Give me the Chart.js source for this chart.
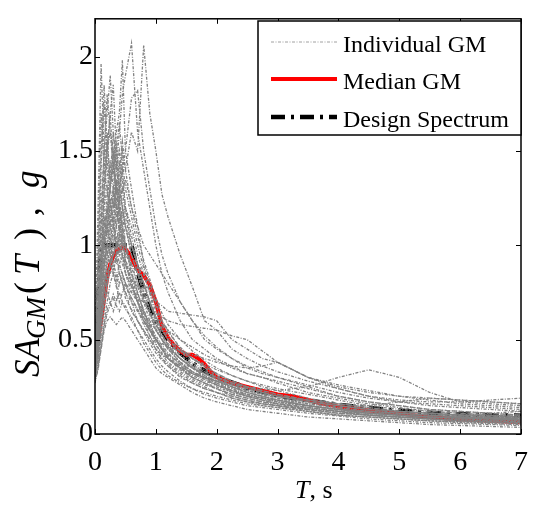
<!DOCTYPE html>
<html>
<head>
<meta charset="utf-8">
<script src="https://cdn.jsdelivr.net/npm/chart.js@4"></script>
<style>
  html, body { margin: 0; padding: 0; background: #fff; }
  canvas { display: block; }
</style>
</head>
<body>
<canvas id="spectra" width="540" height="513"></canvas>
<script>
// periods shared by all individual ground motions (s)
const periods = [0, 0.05, 0.1, 0.15, 0.2, 0.25, 0.3, 0.35, 0.4, 0.45, 0.5, 0.6, 0.7, 0.8, 0.9, 1.0,
  1.1, 1.2, 1.4, 1.6, 1.8, 2.0, 2.25, 2.5, 2.75, 3.0, 3.5, 4.0, 4.5, 5.0, 5.5, 6.0, 6.5, 7.0]

// spectral accelerations of each record (g), one row per ground motion
const gmSpectra = [
  [0.45, 0.6, 0.85, 0.9, 1.0, 0.95, 1.1, 1.2, 1.3, 1.5, 1.4, 1.6, 1.5, 2.06, 1.7, 1.5, 1.27, 1.15, 0.95, 0.78, 0.6, 0.55, 0.45, 0.4, 0.36, 0.33, 0.28, 0.24, 0.2, 0.17, 0.15, 0.14, 0.13, 0.12],
  [0.4, 0.55, 0.8, 1.0, 1.2, 1.3, 1.5, 1.4, 1.6, 1.8, 1.9, 2.07, 1.6, 1.4, 1.2, 1.0, 0.85, 0.75, 0.6, 0.5, 0.45, 0.4, 0.36, 0.32, 0.3, 0.27, 0.22, 0.19, 0.16, 0.14, 0.12, 0.11, 0.1, 0.09],
  [0.35, 0.5, 0.7, 0.9, 1.0, 1.1, 1.2, 1.3, 1.25, 1.4, 1.5, 1.78, 1.82, 1.5, 1.3, 1.1, 0.95, 0.85, 0.7, 0.6, 0.5, 0.45, 0.4, 0.36, 0.33, 0.3, 0.25, 0.2, 0.17, 0.15, 0.13, 0.12, 0.11, 0.1],
  [0.5, 1.2, 1.96, 1.5, 1.4, 1.2, 1.3, 1.1, 1.0, 0.95, 0.9, 0.8, 0.7, 0.6, 0.55, 0.5, 0.45, 0.4, 0.35, 0.3, 0.27, 0.24, 0.2, 0.18, 0.16, 0.15, 0.12, 0.1, 0.09, 0.08, 0.07, 0.06, 0.055, 0.05],
  [0.42, 0.7, 1.1, 1.5, 1.7, 1.9, 1.6, 1.4, 1.3, 1.2, 1.1, 0.95, 0.85, 0.75, 0.65, 0.55, 0.5, 0.45, 0.38, 0.33, 0.3, 0.27, 0.23, 0.2, 0.18, 0.16, 0.13, 0.11, 0.1, 0.09, 0.08, 0.07, 0.065, 0.06],
  [0.38, 0.5, 0.7, 0.9, 1.1, 1.3, 1.4, 1.6, 1.7, 1.98, 1.5, 1.3, 1.1, 0.9, 0.8, 0.7, 0.6, 0.55, 0.45, 0.4, 0.36, 0.32, 0.28, 0.25, 0.22, 0.2, 0.17, 0.15, 0.13, 0.11, 0.1, 0.09, 0.085, 0.08],
  [0.4, 0.6, 0.9, 1.2, 1.5, 1.7, 1.85, 1.5, 1.3, 1.4, 1.2, 1.0, 0.9, 0.85, 0.75, 0.6, 0.5, 0.45, 0.4, 0.35, 0.3, 0.28, 0.25, 0.23, 0.21, 0.2, 0.18, 0.15, 0.13, 0.12, 0.11, 0.1, 0.09, 0.085],
  [0.45, 0.8, 1.2, 1.5, 1.8, 1.6, 1.5, 1.3, 1.2, 1.1, 1.0, 0.9, 0.8, 0.7, 0.6, 0.5, 0.45, 0.4, 0.35, 0.32, 0.3, 0.26, 0.22, 0.2, 0.18, 0.16, 0.14, 0.12, 0.1, 0.09, 0.08, 0.075, 0.07, 0.065],
  [0.3, 0.4, 0.6, 0.7, 0.8, 0.85, 0.9, 0.85, 0.8, 0.8, 0.75, 0.7, 0.65, 0.6, 0.55, 0.5, 0.45, 0.42, 0.38, 0.35, 0.32, 0.3, 0.27, 0.25, 0.24, 0.23, 0.25, 0.3, 0.34, 0.3, 0.22, 0.17, 0.16, 0.15],
  [0.35, 0.45, 0.6, 0.75, 0.85, 0.9, 0.95, 1.0, 1.1, 1.0, 0.95, 0.9, 0.85, 0.8, 0.75, 0.7, 0.68, 0.65, 0.64, 0.63, 0.62, 0.6, 0.5, 0.45, 0.4, 0.38, 0.3, 0.25, 0.22, 0.2, 0.19, 0.18, 0.17, 0.16],
  [0.33, 0.45, 0.6, 0.7, 0.8, 0.9, 1.0, 1.1, 1.2, 1.3, 1.35, 1.2, 1.1, 1.0, 0.95, 0.9, 0.85, 0.8, 0.7, 0.6, 0.52, 0.46, 0.4, 0.35, 0.32, 0.3, 0.26, 0.22, 0.19, 0.17, 0.16, 0.15, 0.14, 0.13],
  [0.27, 0.35, 0.45, 0.55, 0.6, 0.62, 0.6, 0.58, 0.6, 0.62, 0.6, 0.55, 0.5, 0.45, 0.4, 0.35, 0.32, 0.3, 0.26, 0.22, 0.19, 0.17, 0.15, 0.13, 0.12, 0.11, 0.09, 0.08, 0.07, 0.06, 0.05, 0.045, 0.04, 0.035],
  [0.3, 0.4, 0.55, 0.7, 0.75, 0.7, 0.65, 0.7, 0.75, 0.7, 0.68, 0.6, 0.55, 0.5, 0.45, 0.4, 0.36, 0.33, 0.28, 0.24, 0.21, 0.19, 0.17, 0.15, 0.14, 0.13, 0.11, 0.095, 0.08, 0.07, 0.06, 0.055, 0.05, 0.045],
  [0.36, 0.55, 0.8, 1.0, 1.1, 1.2, 1.15, 1.0, 0.95, 1.05, 1.0, 0.85, 0.75, 0.65, 0.55, 0.48, 0.42, 0.38, 0.33, 0.29, 0.26, 0.24, 0.21, 0.19, 0.17, 0.16, 0.14, 0.12, 0.11, 0.1, 0.09, 0.085, 0.08, 0.075],
  [0.4, 0.6, 0.9, 1.2, 1.3, 1.1, 1.0, 1.1, 1.2, 1.1, 0.9, 0.8, 0.7, 0.62, 0.55, 0.5, 0.45, 0.4, 0.35, 0.3, 0.27, 0.25, 0.22, 0.2, 0.19, 0.18, 0.16, 0.14, 0.12, 0.11, 0.1, 0.095, 0.09, 0.085],
  [0.45, 0.65, 0.9, 1.05, 0.95, 1.0, 1.2, 1.3, 1.15, 1.0, 0.95, 1.0, 0.9, 0.8, 0.7, 0.6, 0.55, 0.5, 0.44, 0.4, 0.35, 0.31, 0.27, 0.24, 0.22, 0.2, 0.17, 0.15, 0.13, 0.12, 0.11, 0.1, 0.095, 0.09],
  [0.32, 0.4, 0.55, 0.65, 0.8, 0.9, 0.95, 0.9, 1.0, 0.95, 0.85, 0.75, 0.7, 0.6, 0.52, 0.45, 0.4, 0.36, 0.3, 0.27, 0.24, 0.22, 0.2, 0.18, 0.16, 0.15, 0.13, 0.12, 0.11, 0.1, 0.09, 0.08, 0.075, 0.07],
  [0.38, 0.5, 0.65, 0.8, 0.9, 1.0, 1.05, 1.15, 1.25, 1.1, 1.0, 0.9, 0.85, 0.78, 0.7, 0.62, 0.58, 0.55, 0.5, 0.46, 0.42, 0.39, 0.35, 0.32, 0.3, 0.28, 0.24, 0.2, 0.17, 0.15, 0.13, 0.12, 0.11, 0.1],
  [0.34, 0.45, 0.6, 0.75, 0.85, 0.9, 0.95, 1.0, 0.9, 0.85, 0.8, 0.75, 0.72, 0.7, 0.68, 0.64, 0.62, 0.6, 0.58, 0.57, 0.56, 0.55, 0.52, 0.5, 0.44, 0.38, 0.3, 0.26, 0.23, 0.2, 0.18, 0.16, 0.15, 0.14],
  [0.42, 0.55, 0.75, 0.95, 1.1, 1.0, 0.9, 0.95, 0.85, 0.8, 0.75, 0.65, 0.6, 0.55, 0.5, 0.45, 0.4, 0.37, 0.32, 0.28, 0.25, 0.22, 0.19, 0.17, 0.15, 0.14, 0.12, 0.1, 0.09, 0.08, 0.07, 0.065, 0.06, 0.055],
  [0.3, 0.38, 0.5, 0.6, 0.7, 0.8, 0.85, 0.8, 0.7, 0.75, 0.8, 0.7, 0.6, 0.55, 0.5, 0.45, 0.42, 0.4, 0.36, 0.32, 0.3, 0.28, 0.25, 0.22, 0.2, 0.18, 0.15, 0.13, 0.12, 0.11, 0.1, 0.1, 0.11, 0.12],
  [0.36, 0.48, 0.62, 0.8, 0.9, 0.95, 0.88, 0.82, 0.9, 0.95, 0.85, 0.78, 0.7, 0.62, 0.56, 0.5, 0.46, 0.42, 0.37, 0.33, 0.3, 0.28, 0.26, 0.24, 0.22, 0.2, 0.18, 0.16, 0.15, 0.17, 0.19, 0.18, 0.17, 0.16],
  [0.48, 0.75, 1.1, 1.4, 1.3, 1.2, 1.1, 1.25, 1.05, 0.95, 0.9, 0.8, 0.72, 0.64, 0.57, 0.5, 0.45, 0.41, 0.36, 0.32, 0.29, 0.26, 0.23, 0.21, 0.19, 0.17, 0.15, 0.13, 0.12, 0.11, 0.1, 0.09, 0.085, 0.08],
  [0.33, 0.42, 0.6, 0.78, 0.95, 1.05, 1.1, 1.0, 1.05, 1.15, 1.2, 1.1, 0.95, 0.85, 0.75, 0.65, 0.58, 0.52, 0.44, 0.38, 0.34, 0.3, 0.26, 0.23, 0.21, 0.19, 0.16, 0.14, 0.12, 0.1, 0.09, 0.085, 0.08, 0.075],
  [0.29, 0.36, 0.48, 0.58, 0.66, 0.7, 0.72, 0.68, 0.65, 0.7, 0.66, 0.62, 0.55, 0.48, 0.43, 0.38, 0.34, 0.31, 0.27, 0.24, 0.22, 0.2, 0.18, 0.16, 0.15, 0.14, 0.12, 0.1, 0.09, 0.08, 0.07, 0.065, 0.06, 0.055],
  [0.44, 0.62, 0.85, 1.1, 1.25, 1.45, 1.3, 1.2, 1.1, 1.0, 0.92, 0.85, 0.78, 0.7, 0.64, 0.58, 0.52, 0.48, 0.42, 0.37, 0.33, 0.3, 0.27, 0.24, 0.22, 0.2, 0.17, 0.15, 0.13, 0.12, 0.11, 0.1, 0.09, 0.085],
  [0.37, 0.52, 0.72, 0.88, 1.0, 1.15, 1.25, 1.4, 1.5, 1.35, 1.2, 1.05, 0.9, 0.8, 0.7, 0.62, 0.55, 0.5, 0.42, 0.36, 0.32, 0.29, 0.26, 0.23, 0.21, 0.19, 0.16, 0.14, 0.12, 0.11, 0.1, 0.09, 0.085, 0.08],
  [0.4, 0.55, 0.75, 0.9, 1.0, 0.95, 1.0, 0.92, 0.88, 0.85, 0.8, 0.72, 0.66, 0.6, 0.55, 0.5, 0.48, 0.46, 0.44, 0.42, 0.4, 0.38, 0.36, 0.35, 0.36, 0.38, 0.3, 0.24, 0.2, 0.18, 0.17, 0.17, 0.18, 0.19],
  [0.35, 0.5, 0.7, 0.85, 0.95, 0.9, 0.85, 0.95, 1.05, 0.95, 0.9, 0.82, 0.78, 0.74, 0.7, 0.62, 0.56, 0.5, 0.44, 0.4, 0.37, 0.34, 0.31, 0.28, 0.26, 0.24, 0.21, 0.18, 0.15, 0.13, 0.12, 0.11, 0.1, 0.1],
  [0.46, 0.7, 1.0, 1.3, 1.5, 1.6, 1.4, 1.55, 1.3, 1.2, 1.1, 1.0, 0.9, 0.8, 0.7, 0.6, 0.53, 0.47, 0.4, 0.35, 0.31, 0.28, 0.24, 0.21, 0.19, 0.17, 0.14, 0.12, 0.1, 0.09, 0.08, 0.075, 0.07, 0.065],
  [0.5, 1.0, 1.7, 1.4, 1.6, 1.3, 1.5, 1.2, 1.1, 1.2, 1.0, 0.85, 0.75, 0.65, 0.58, 0.5, 0.45, 0.4, 0.34, 0.3, 0.27, 0.24, 0.21, 0.19, 0.17, 0.15, 0.13, 0.11, 0.1, 0.09, 0.08, 0.07, 0.065, 0.06],
  [0.41, 0.8, 1.4, 1.85, 1.5, 1.7, 1.4, 1.3, 1.45, 1.2, 1.1, 0.95, 0.85, 0.72, 0.63, 0.55, 0.5, 0.45, 0.38, 0.33, 0.3, 0.27, 0.24, 0.21, 0.19, 0.17, 0.15, 0.13, 0.11, 0.1, 0.09, 0.085, 0.08, 0.075],
  [0.38, 0.6, 0.95, 1.15, 1.05, 1.25, 1.1, 1.35, 1.2, 1.05, 0.98, 0.88, 0.8, 0.72, 0.64, 0.56, 0.5, 0.46, 0.4, 0.35, 0.32, 0.29, 0.25, 0.22, 0.2, 0.18, 0.15, 0.13, 0.11, 0.1, 0.09, 0.085, 0.08, 0.075],
  [0.34, 0.55, 0.85, 1.3, 1.55, 1.35, 1.6, 1.45, 1.25, 1.3, 1.15, 1.0, 0.88, 0.76, 0.66, 0.58, 0.52, 0.47, 0.4, 0.35, 0.31, 0.28, 0.25, 0.22, 0.2, 0.18, 0.15, 0.13, 0.11, 0.1, 0.09, 0.08, 0.075, 0.07],
  [0.31, 0.45, 0.68, 0.85, 0.78, 0.92, 0.85, 0.78, 0.86, 0.8, 0.72, 0.66, 0.6, 0.54, 0.48, 0.43, 0.39, 0.36, 0.31, 0.27, 0.24, 0.22, 0.19, 0.17, 0.16, 0.15, 0.13, 0.11, 0.1, 0.09, 0.08, 0.07, 0.065, 0.06],
  [0.47, 0.9, 1.5, 1.75, 1.45, 1.3, 1.2, 1.35, 1.15, 1.05, 0.92, 0.82, 0.74, 0.66, 0.58, 0.52, 0.47, 0.43, 0.37, 0.32, 0.29, 0.26, 0.23, 0.2, 0.18, 0.16, 0.14, 0.12, 0.1, 0.09, 0.08, 0.075, 0.07, 0.065],
  [0.36, 0.5, 0.78, 1.0, 1.2, 1.1, 1.3, 1.5, 1.65, 1.45, 1.3, 1.15, 1.0, 0.88, 0.78, 0.68, 0.6, 0.54, 0.46, 0.4, 0.36, 0.32, 0.28, 0.25, 0.23, 0.21, 0.18, 0.16, 0.14, 0.12, 0.11, 0.1, 0.095, 0.09],
  [0.43, 0.62, 0.92, 1.08, 1.2, 1.0, 0.94, 1.05, 0.98, 0.9, 0.86, 0.78, 0.7, 0.64, 0.6, 0.55, 0.5, 0.46, 0.4, 0.36, 0.33, 0.3, 0.27, 0.25, 0.23, 0.21, 0.18, 0.16, 0.14, 0.12, 0.11, 0.1, 0.1, 0.095],
  [0.28, 0.34, 0.45, 0.56, 0.64, 0.68, 0.74, 0.7, 0.8, 0.84, 0.78, 0.72, 0.66, 0.58, 0.52, 0.47, 0.43, 0.4, 0.35, 0.31, 0.28, 0.26, 0.23, 0.21, 0.19, 0.17, 0.15, 0.13, 0.11, 0.1, 0.09, 0.085, 0.08, 0.075],
  [0.39, 0.58, 0.82, 1.02, 1.15, 1.32, 1.42, 1.28, 1.38, 1.55, 1.4, 1.2, 1.05, 0.92, 0.82, 0.72, 0.64, 0.58, 0.5, 0.44, 0.39, 0.35, 0.31, 0.28, 0.25, 0.23, 0.19, 0.16, 0.14, 0.12, 0.11, 0.1, 0.09, 0.085]
]

// median of the records
const medianT = [0, 0.05, 0.1, 0.15, 0.2, 0.25, 0.3, 0.35, 0.4, 0.45, 0.5, 0.55, 0.6, 0.7, 0.8, 0.9, 1.0,
  1.1, 1.2, 1.3, 1.4, 1.5, 1.6, 1.7, 1.8, 1.9, 2.0, 2.25, 2.5, 2.75, 3.0, 3.25, 3.5, 3.75, 4.0, 4.5, 5.0, 5.5, 6.0, 6.5, 7.0]
const medianSA = [0.42, 0.5, 0.6, 0.72, 0.83, 0.9, 0.94, 0.97, 0.98, 0.99, 0.98, 0.96, 0.93, 0.87, 0.84, 0.79, 0.7,
  0.57, 0.51, 0.47, 0.44, 0.42, 0.42, 0.4, 0.37, 0.33, 0.3, 0.27, 0.25, 0.23, 0.21, 0.2, 0.18, 0.16, 0.145, 0.125, 0.108, 0.09, 0.078, 0.07, 0.062]

// design spectrum
const designT = [0, 0.1, 0.6, 0.7, 0.8, 0.9, 1.0, 1.2, 1.4, 1.6, 1.8, 2.0, 2.5, 3.0, 3.5, 4.0, 4.5, 5.0, 5.5, 6.0, 6.5, 7.0]
const designSA = [0.4, 1.0, 1.0, 0.86, 0.75, 0.67, 0.6, 0.5, 0.43, 0.375, 0.335, 0.3, 0.245, 0.205, 0.178, 0.155, 0.138, 0.124, 0.113, 0.104, 0.1, 0.097]

const xTicks = [0, 1, 2, 3, 4, 5, 6, 7]
const yTicks = [0, 0.5, 1, 1.5, 2]

const legendLabels = ['Individual GM', 'Median GM', 'Design Spectrum']

const SERIF = 'Liberation Serif'
Chart.defaults.font.family = SERIF
const GREY = '#828282'
const toPoints = (xs, ys) => xs.map((x, i) => ({ x, y: ys[i] }))

const gmDatasets = gmSpectra.map(row => ({
  data: toPoints(periods, row),
  borderColor: GREY,
  borderWidth: 1.3,
  borderDash: [3, 1.5, 1, 1.5],
  pointRadius: 0,
  tension: 0
}))

const medianDataset = {
  data: toPoints(medianT, medianSA),
  borderColor: '#ff0000',
  borderWidth: 4,
  pointRadius: 0,
  tension: 0
}

const designDataset = {
  data: toPoints(designT, designSA),
  borderColor: '#000',
  borderWidth: 4.5,
  borderDash: [14, 6, 3, 6],
  pointRadius: 0,
  tension: 0
}

// frame, inward ticks, axis titles and boxed legend (matlab look)
const matlabFrame = {
  id: 'matlabFrame',
  beforeDraw(chart) {
    const { ctx } = chart
    ctx.save()
    ctx.fillStyle = '#fff'
    ctx.fillRect(0, 0, chart.width, chart.height)
    ctx.restore()
  },
  afterDraw(chart) {
    const { ctx, chartArea: a, scales } = chart
    ctx.save()
    ctx.strokeStyle = '#000'
    ctx.lineWidth = 1.5
    ctx.strokeRect(a.left, a.top, a.right - a.left, a.bottom - a.top)

    ctx.lineWidth = 1
    ctx.beginPath()
    xTicks.forEach(v => {
      const px = Math.round(scales.x.getPixelForValue(v)) + 0.5
      ctx.moveTo(px, a.bottom); ctx.lineTo(px, a.bottom - 5)
      ctx.moveTo(px, a.top); ctx.lineTo(px, a.top + 5)
    })
    yTicks.forEach(v => {
      const py = Math.round(scales.y.getPixelForValue(v)) + 0.5
      ctx.moveTo(a.left, py); ctx.lineTo(a.left + 5, py)
      ctx.moveTo(a.right, py); ctx.lineTo(a.right - 5, py)
    })
    ctx.stroke()

    // x title: T, s
    ctx.fillStyle = '#000'
    ctx.textBaseline = 'alphabetic'
    ctx.textAlign = 'left'
    ctx.font = 'italic 26px ' + SERIF
    ctx.fillText('T', 295, 498)
    const tw = ctx.measureText('T').width
    ctx.font = '26px ' + SERIF
    ctx.fillText(', s', 295 + tw, 498)

    // y title: SA_GM(T), g rotated
    ctx.save()
    ctx.translate(39, 0)
    ctx.rotate(-Math.PI / 2)
    const piece = (txt, start, font, shift) => {
      ctx.font = font
      ctx.fillText(txt, -start, shift)
    }
    piece('SA', 377, 'italic 35px ' + SERIF, 0)
    piece('GM', 339, 'italic 27px ' + SERIF, 6)
    piece('(', 294, '36px ' + SERIF, 0)
    piece('T', 275, 'italic 36px ' + SERIF, 0)
    piece(')', 240, '36px ' + SERIF, 0)
    piece(',', 216, '35px ' + SERIF, 0)
    piece('g', 188, 'italic 35px ' + SERIF, 0)
    ctx.restore()

    // legend box
    const box = { left: 258, top: 21, right: 521, bottom: 135 }
    ctx.fillStyle = '#fff'
    ctx.fillRect(box.left, box.top, box.right - box.left, box.bottom - box.top)
    ctx.lineWidth = 1.5
    ctx.strokeStyle = '#000'
    ctx.strokeRect(box.left, box.top, box.right - box.left, box.bottom - box.top)

    const rows = [42, 79, 117]
    const styles = [
      { color: '#a0a0a0', width: 1, dash: [3, 1.5, 1, 1.5] },
      { color: '#ff0000', width: 4, dash: [] },
      { color: '#000', width: 4.5, dash: [14, 6, 3, 6] }
    ]
    rows.forEach((y, i) => {
      const s = styles[i]
      ctx.beginPath()
      ctx.setLineDash(s.dash)
      ctx.strokeStyle = s.color
      ctx.lineWidth = s.width
      ctx.moveTo(271, y); ctx.lineTo(337, y)
      ctx.stroke()
      ctx.setLineDash([])
      ctx.fillStyle = '#000'
      ctx.font = '24px ' + SERIF
      ctx.fillText(legendLabels[i], 343, y + 10)
    })
    ctx.restore()
  }
}

new Chart('spectra', {
  type: 'line',
  data: { datasets: [...gmDatasets, medianDataset, designDataset] },
  options: {
    responsive: false,
    animation: false,
    layout: { padding: { left: 0, right: 10, top: 7, bottom: 0 } },
    plugins: { legend: { display: false }, tooltip: { enabled: false } },
    scales: {
      x: {
        type: 'linear', min: 0, max: 7,
        grid: { display: false, drawTicks: false },
        border: { display: false },
        afterBuildTicks: s => { s.ticks = xTicks.map(value => ({ value })) },
        afterFit: s => { s.height = 79 },
        ticks: { color: '#000', padding: 12, maxRotation: 0, font: { family: SERIF, size: 28 }, callback: v => String(v) }
      },
      y: {
        type: 'linear', min: 0, max: 2.2,
        grid: { display: false, drawTicks: false },
        border: { display: false },
        afterBuildTicks: s => { s.ticks = yTicks.map(value => ({ value })) },
        afterFit: s => { s.width = 95 },
        ticks: { color: '#000', padding: 2, font: { family: SERIF, size: 28 }, callback: v => String(v) }
      }
    }
  },
  plugins: [matlabFrame]
})
</script>
</body>
</html>
